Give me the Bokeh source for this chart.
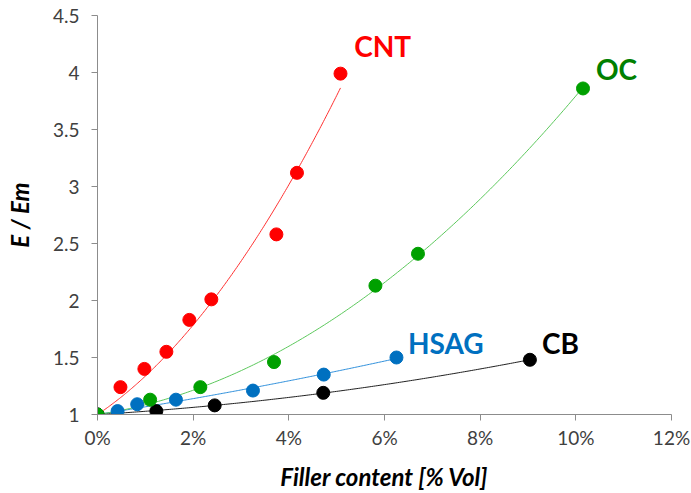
import numpy as np
from bokeh.plotting import figure
from bokeh.models import FixedTicker, Label
from bokeh.embed import file_html
from bokeh.resources import INLINE

# Data (filler content in % vol, relative modulus E/Em)
cnt_x = [0.0, 0.48, 0.98, 1.44, 1.92, 2.38, 3.74, 4.17, 5.08]
cnt_y = [1.0, 1.24, 1.40, 1.55, 1.83, 2.01, 2.58, 3.12, 3.99]

hsag_x = [0.0, 0.42, 0.83, 1.64, 3.25, 4.73, 6.25]
hsag_y = [1.0, 1.03, 1.09, 1.13, 1.21, 1.35, 1.50]

cb_x = [0.0, 1.23, 2.45, 4.72, 9.04]
cb_y = [1.0, 1.03, 1.08, 1.19, 1.48]

oc_x = [0.0, 1.10, 2.15, 3.69, 5.81, 6.70, 10.15]
oc_y = [1.0, 1.13, 1.24, 1.46, 2.13, 2.41, 3.86]

x_ticks = [0, 2, 4, 6, 8, 10, 12]
x_tick_labels = ["0%", "2%", "4%", "6%", "8%", "10%", "12%"]
y_ticks = [1, 1.5, 2, 2.5, 3, 3.5, 4, 4.5]
y_tick_labels = ["1", "1.5", "2", "2.5", "3", "3.5", "4", "4.5"]

series_names = ["CNT", "HSAG", "CB", "OC"]

FONT = "Lato"

p = figure(width=691, height=493, x_range=(0, 12), y_range=(1, 4.5),
           output_backend="svg", toolbar_location=None,
           min_border_left=97, min_border_right=20,
           min_border_top=15, min_border_bottom=79)
p.outline_line_color = None
p.xgrid.visible = False
p.ygrid.visible = False
p.background_fill_color = "white"
p.border_fill_color = "white"

for ax in (p.xaxis[0], p.yaxis[0]):
    ax.axis_line_color = "#8c8c8c"
    ax.major_tick_line_color = "#8c8c8c"
    ax.minor_tick_line_color = None
    ax.major_tick_in = 0
    ax.major_tick_out = 6
    ax.major_label_text_font = FONT
    ax.major_label_text_font_size = "19px"
    ax.major_label_text_color = "#404040"
    ax.axis_label_text_font = FONT
    ax.axis_label_text_font_style = "bold italic"
    ax.axis_label_text_font_size = "24px"
    ax.axis_label_text_color = "#000000"

p.xaxis.ticker = FixedTicker(ticks=x_ticks)
p.xaxis.major_label_overrides = {t: l for t, l in zip(x_ticks, x_tick_labels)}
p.yaxis.ticker = FixedTicker(ticks=y_ticks)
p.yaxis.major_label_overrides = {t: l for t, l in zip(y_ticks, y_tick_labels)}
p.xaxis.axis_label = "Filler content [% Vol]"
p.yaxis.axis_label = "E / Em"
p.xaxis.major_label_standoff = 5
p.yaxis.major_label_standoff = 12
p.xaxis.axis_label_standoff = 10
p.yaxis.axis_label_standoff = 16

data = {
    "CNT": (cnt_x, cnt_y, "#FF0000", "#FF3030"),
    "HSAG": (hsag_x, hsag_y, "#0070C0", "#2E8FDB"),
    "CB": (cb_x, cb_y, "#000000", "#202020"),
    "OC": (oc_x, oc_y, "#00A000", "#5CC85C"),
}

# trendlines: 2nd order polynomial with intercept fixed at 1
for name in series_names:
    xs, ys, pc, lc = data[name]
    xa = np.array(xs)
    ya = np.array(ys) - 1.0
    A = np.column_stack([xa, xa ** 2])
    (a, b), *_ = np.linalg.lstsq(A, ya, rcond=None)
    xf = np.linspace(0, xa.max(), 200)
    p.line(xf, 1.0 + a * xf + b * xf ** 2, line_color=lc, line_width=1)

for name in series_names:
    xs, ys, pc, lc = data[name]
    p.scatter(xs, ys, size=13, fill_color=pc, line_color=pc)

labels = [
    ("CNT", 5.96, 4.23, "#FF0000"),
    ("OC", 10.85, 4.03, "#008000"),
    ("HSAG", 7.28, 1.63, "#0070C0"),
    ("CB", 9.68, 1.63, "#000000"),
]
for txt, lx, ly, col in labels:
    p.add_layout(Label(x=lx, y=ly, text=txt, text_color=col, text_font=FONT,
                       text_font_style="bold", text_font_size="28px",
                       text_align="center", text_baseline="middle"))

open("out.html", "w").write(file_html(p, INLINE))
